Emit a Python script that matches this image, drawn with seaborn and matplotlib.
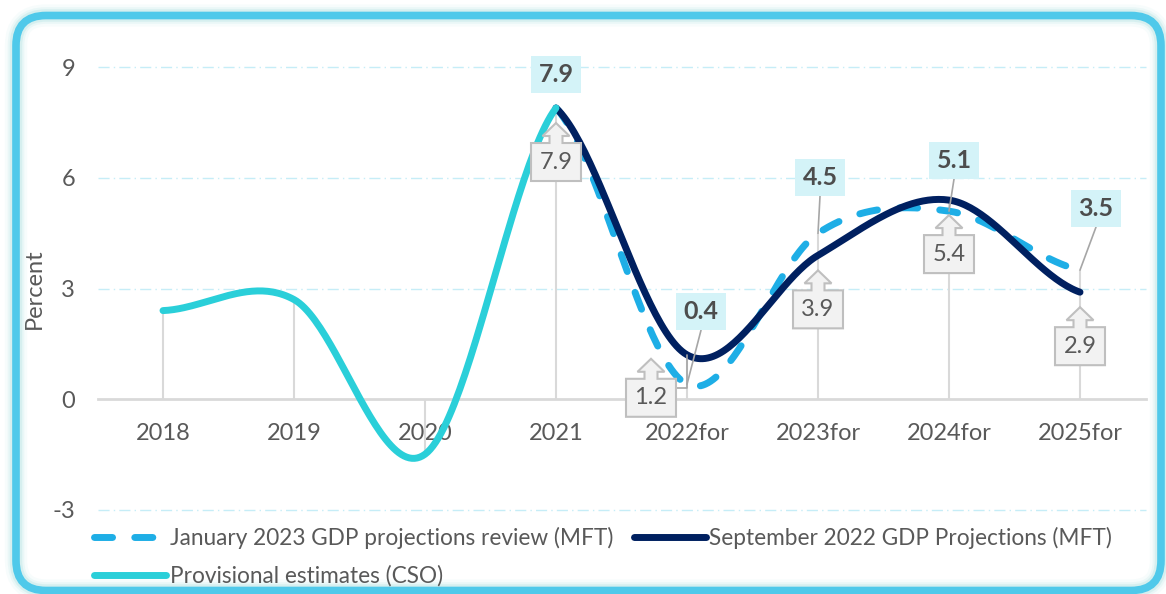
import numpy as np
import pandas as pd
import matplotlib
matplotlib.use("Agg")
import matplotlib.pyplot as plt
import matplotlib.transforms as mtransforms
from matplotlib.patches import FancyBboxPatch, Polygon, Rectangle
from matplotlib.lines import Line2D
import seaborn as sns

# data
years = ["2018", "2019", "2020", "2021", "2022for", "2023for", "2024for", "2025for"]
prov_years = ["2018", "2019", "2020", "2021"]
prov_cso = [2.4, 2.7, -1.5, 7.9]
proj_years = ["2021", "2022for", "2023for", "2024for", "2025for"]
sep_2022 = [7.9, 1.2, 3.9, 5.4, 2.9]
jan_2023 = [7.9, 0.4, 4.5, 5.1, 3.5]
yticks = [-3, 0, 3, 6, 9]

lab_jan = "January 2023 GDP projections review (MFT)"
lab_sep = "September 2022 GDP Projections (MFT)"
lab_prov = "Provisional estimates (CSO)"

C_JAN = "#1eaee6"
C_SEP = "#002060"
C_PROV = "#2acfd9"
GREY = "#595959"

sns.set_theme(style="white")
plt.rcParams["font.family"] = ["Lato", "DejaVu Sans"]


def smooth(xs, ys, n=50):
    # Excel-like smoothed line (cardinal spline through the points)
    xs = np.asarray(xs, float)
    ys = np.asarray(ys, float)
    m = np.empty_like(ys)
    m[1:-1] = (ys[2:] - ys[:-2]) / 2
    m[0] = (ys[1] - ys[0]) / 2
    m[-1] = (ys[-1] - ys[-2]) / 2
    px, py = [], []
    for i in range(len(xs) - 1):
        t = np.linspace(0, 1, n, endpoint=(i == len(xs) - 2))
        h00 = 2 * t**3 - 3 * t**2 + 1
        h10 = t**3 - 2 * t**2 + t
        h01 = -2 * t**3 + 3 * t**2
        h11 = t**3 - t**2
        px.append(xs[i] + t * (xs[i + 1] - xs[i]))
        py.append(h00 * ys[i] + h10 * m[i] + h01 * ys[i + 1] + h11 * m[i + 1])
    return np.concatenate(px), np.concatenate(py)


pos = {y: i for i, y in enumerate(years)}

fig = plt.figure(figsize=(11.66, 5.94), dpi=100)
ax = fig.add_axes([97.5 / 1166, 84.5 / 594, 1048 / 1166, 442 / 594])

series = [
    (lab_jan, proj_years, jan_2023, C_JAN, (0, (2.6, 3.2)), 3),
    (lab_sep, proj_years, sep_2022, C_SEP, "-", 4),
    (lab_prov, prov_years, prov_cso, C_PROV, "-", 5),
]
for label, yrs, vals, color, ls, z in series:
    sx, sy = smooth([pos[y] for y in yrs], vals)
    df = pd.DataFrame({"x": sx, "y": sy})
    sns.lineplot(data=df, x="x", y="y", ax=ax, color=color, lw=5, sort=False,
                 estimator=None, errorbar=None, linestyle=ls,
                 solid_capstyle="round", dash_capstyle="round", zorder=z, legend=False)

# drop lines
allvals = {}
for yrs, vals in [(prov_years, prov_cso), (proj_years, sep_2022), (proj_years, jan_2023)]:
    for y, v in zip(yrs, vals):
        allvals.setdefault(y, []).append(v)
for y, vs in allvals.items():
    ax.vlines(pos[y], min(0, min(vs)), max(0, max(vs)), color="#d9d9d9", lw=1.5, zorder=1)

ax.set_xlim(-0.5, 7.5)
ax.set_ylim(-3, 9)
ax.set_xticks(range(len(years)))
ax.set_xticklabels(years)
ax.set_yticks(yticks)
ax.set_yticklabels([str(v) for v in yticks])
for v in yticks:
    if v != 0:
        ax.axhline(v, color="#c6edf7", lw=1, ls=(0, (8, 3, 1, 3)), zorder=0, clip_on=False)
for s in ["top", "left", "right"]:
    ax.spines[s].set_visible(False)
ax.spines["bottom"].set_position(("data", 0))
ax.spines["bottom"].set_color("#d9d9d9")
ax.spines["bottom"].set_linewidth(2)
ax.spines["bottom"].set_zorder(1)
ax.tick_params(axis="x", length=0, pad=17, labelsize=17, labelcolor=GREY)
ax.tick_params(axis="y", length=0, pad=16, labelsize=17, labelcolor=GREY)
ax.set_xlabel("")
ax.set_ylabel("Percent", fontsize=17, color=GREY, va="center")
ax.yaxis.set_label_coords(-0.060, 0.5)
ax.patch.set_alpha(0)


def at(i, v):
    return mtransforms.ScaledTranslation(i, v, ax.transData)


# January 2023 labels (bold, cyan boxes)
jan_off = [(0, 34), (14, 73), (2, 56), (5, 51), (16, 62)]
for k, (y, v) in enumerate(zip(proj_years, jan_2023)):
    dx, dy = jan_off[k]
    T = at(pos[y], v)
    if k > 0:
        ax.add_line(Line2D([dx, 0], [dy - 19, 0], transform=T, color="#a6a6a6", lw=1.2, zorder=6))
    ax.add_patch(Rectangle((dx - 25, dy - 18.5), 50, 37, transform=T, facecolor="#d4f3f8",
                           edgecolor="none", zorder=7, clip_on=False))
    ax.text(dx, dy, f"{v:.1f}", transform=T, ha="center", va="center", fontsize=18,
            fontweight="bold", color="#4d4d4d", zorder=8)

# September 2022 labels (up-arrow callouts)
sep_off = [(0, -54), (-36, -43), (0, -54), (0, -54), (0, -54)]
for k, (y, v) in enumerate(zip(proj_years, sep_2022)):
    cx, cy = sep_off[k]
    T = at(pos[y], v)
    if k == 1:
        ax.add_line(Line2D([cx + 25, 0, 0], [cy + 10, cy + 10, 0], transform=T,
                           color="#a6a6a6", lw=1.2, zorder=6))
    verts = [(cx - 25, cy - 19), (cx + 25, cy - 19), (cx + 25, cy + 19), (cx + 6.5, cy + 19),
             (cx + 6.5, cy + 26), (cx + 13.5, cy + 26), (cx, cy + 39), (cx - 13.5, cy + 26),
             (cx - 6.5, cy + 26), (cx - 6.5, cy + 19), (cx - 25, cy + 19)]
    ax.add_patch(Polygon(verts, closed=True, transform=T, facecolor="#f2f2f2",
                         edgecolor="#bfbfbf", lw=1.5, zorder=7, clip_on=False))
    ax.text(cx, cy, f"{v:.1f}", transform=T, ha="center", va="center", fontsize=17,
            color=GREY, zorder=8)

# legend
handles = [
    Line2D([], [], color=C_JAN, lw=5, ls=(0, (2.6, 3.2)), dash_capstyle="round"),
    Line2D([], [], color=C_PROV, lw=5, solid_capstyle="round"),
    Line2D([], [], color=C_SEP, lw=5, solid_capstyle="round"),
]
fig.legend(handles, [lab_jan, lab_prov, lab_sep], ncol=2, loc="upper left",
           bbox_to_anchor=(94 / 1166, 1 - 527 / 594), frameon=False, fontsize=16.3,
           labelcolor=GREY, handlelength=3.2, handletextpad=0.15, columnspacing=0.9,
           labelspacing=0.72, borderpad=0, borderaxespad=0)

# rounded cyan frame with a soft glow
for lw, a in [(16, 0.06), (12, 0.10), (9, 0.18)]:
    fig.add_artist(FancyBboxPatch((16, 3.5), 1145, 575, boxstyle="round,pad=0,rounding_size=30",
                                  transform=mtransforms.IdentityTransform(), facecolor="none",
                                  edgecolor="#7fcfcf", lw=lw, alpha=a))
fig.add_artist(FancyBboxPatch((16, 3.5), 1145, 575, boxstyle="round,pad=0,rounding_size=30",
                              transform=mtransforms.IdentityTransform(), facecolor="none",
                              edgecolor="#4fc9ea", lw=5.5))

fig.savefig("out.png", dpi=100)
